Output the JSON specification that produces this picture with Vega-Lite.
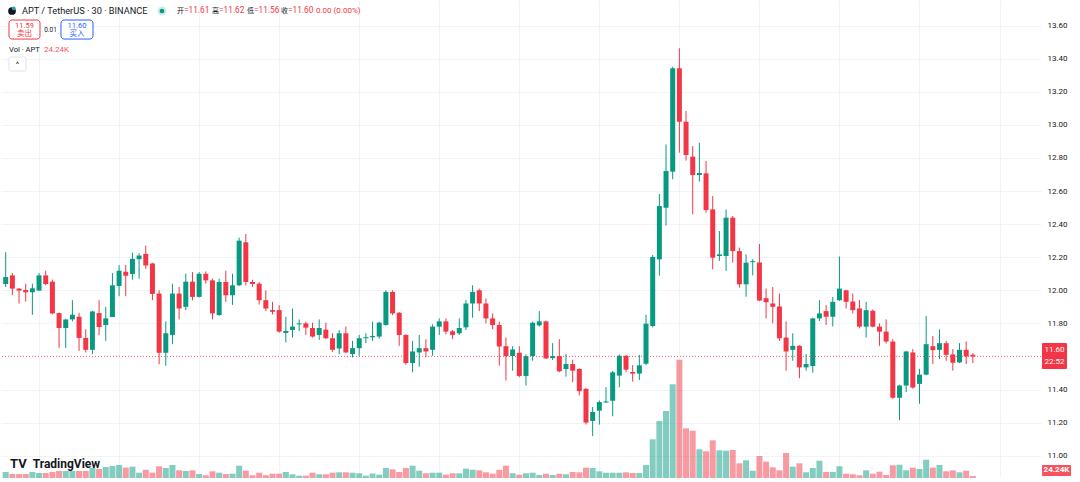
{
"$schema": "https://vega.github.io/schema/vega-lite/v6.json",
"width": 1040, "height": 478, "padding": 0,
"background": "white",
"config": {"view": {"stroke": null}, "font": "Roboto, 'Noto Sans CJK SC'"},
"data": {"values": [
{"i":0,"o":12.038,"h":12.23,"l":12.02,"c":12.08,"v":73},
{"i":1,"o":12.09,"h":12.104,"l":11.97,"c":12.01,"v":48},
{"i":2,"o":12.01,"h":12.014,"l":11.92,"c":11.998,"v":48},
{"i":3,"o":12.002,"h":12.04,"l":11.932,"c":11.988,"v":48},
{"i":4,"o":11.988,"h":12.04,"l":11.852,"c":12.012,"v":73},
{"i":5,"o":11.998,"h":12.104,"l":11.998,"c":12.09,"v":61},
{"i":6,"o":12.09,"h":12.118,"l":12.03,"c":12.038,"v":61},
{"i":7,"o":12.052,"h":12.064,"l":11.854,"c":11.86,"v":73},
{"i":8,"o":11.862,"h":11.866,"l":11.652,"c":11.772,"v":85},
{"i":9,"o":11.772,"h":11.828,"l":11.652,"c":11.824,"v":85},
{"i":10,"o":11.824,"h":11.94,"l":11.812,"c":11.852,"v":85},
{"i":11,"o":11.84,"h":11.864,"l":11.634,"c":11.712,"v":85},
{"i":12,"o":11.712,"h":11.764,"l":11.624,"c":11.64,"v":85},
{"i":13,"o":11.64,"h":11.876,"l":11.614,"c":11.872,"v":121},
{"i":14,"o":11.862,"h":11.94,"l":11.728,"c":11.778,"v":109},
{"i":15,"o":11.79,"h":11.9,"l":11.694,"c":11.83,"v":133},
{"i":16,"o":11.838,"h":12.104,"l":11.838,"c":12.03,"v":145},
{"i":17,"o":12.026,"h":12.152,"l":11.964,"c":12.118,"v":157},
{"i":18,"o":12.112,"h":12.154,"l":11.964,"c":12.088,"v":125},
{"i":19,"o":12.098,"h":12.228,"l":12.064,"c":12.19,"v":137},
{"i":20,"o":12.188,"h":12.224,"l":12.07,"c":12.21,"v":64},
{"i":21,"o":12.22,"h":12.27,"l":12.13,"c":12.15,"v":100},
{"i":22,"o":12.162,"h":12.166,"l":11.94,"c":11.978,"v":64},
{"i":23,"o":11.98,"h":12.0,"l":11.552,"c":11.622,"v":142},
{"i":24,"o":11.622,"h":11.812,"l":11.544,"c":11.74,"v":121},
{"i":25,"o":11.73,"h":12.04,"l":11.674,"c":11.98,"v":157},
{"i":26,"o":11.98,"h":12.02,"l":11.824,"c":11.89,"v":93},
{"i":27,"o":11.9,"h":12.1,"l":11.88,"c":12.052,"v":85},
{"i":28,"o":12.052,"h":12.11,"l":11.94,"c":11.96,"v":93},
{"i":29,"o":11.96,"h":12.11,"l":11.956,"c":12.1,"v":48},
{"i":30,"o":12.1,"h":12.114,"l":12.04,"c":12.06,"v":33},
{"i":31,"o":12.06,"h":12.07,"l":11.824,"c":11.86,"v":81},
{"i":32,"o":11.85,"h":12.07,"l":11.846,"c":12.05,"v":64},
{"i":33,"o":12.05,"h":12.118,"l":11.93,"c":11.97,"v":48},
{"i":34,"o":11.97,"h":12.1,"l":11.912,"c":12.03,"v":52},
{"i":35,"o":12.03,"h":12.318,"l":12.026,"c":12.3,"v":149},
{"i":36,"o":12.29,"h":12.34,"l":12.03,"c":12.05,"v":88},
{"i":37,"o":12.05,"h":12.064,"l":12.02,"c":12.038,"v":33},
{"i":38,"o":12.04,"h":12.05,"l":11.914,"c":11.94,"v":64},
{"i":39,"o":11.94,"h":12.0,"l":11.874,"c":11.89,"v":33},
{"i":40,"o":11.88,"h":11.93,"l":11.854,"c":11.87,"v":52},
{"i":41,"o":11.88,"h":11.91,"l":11.744,"c":11.75,"v":52},
{"i":42,"o":11.742,"h":11.84,"l":11.684,"c":11.754,"v":73},
{"i":43,"o":11.76,"h":11.89,"l":11.714,"c":11.78,"v":45},
{"i":44,"o":11.794,"h":11.824,"l":11.754,"c":11.8,"v":28},
{"i":45,"o":11.8,"h":11.81,"l":11.73,"c":11.774,"v":28},
{"i":46,"o":11.772,"h":11.804,"l":11.714,"c":11.72,"v":64},
{"i":47,"o":11.73,"h":11.824,"l":11.7,"c":11.772,"v":45},
{"i":48,"o":11.762,"h":11.804,"l":11.704,"c":11.71,"v":45},
{"i":49,"o":11.71,"h":11.74,"l":11.628,"c":11.64,"v":64},
{"i":50,"o":11.648,"h":11.76,"l":11.614,"c":11.74,"v":69},
{"i":51,"o":11.74,"h":11.78,"l":11.62,"c":11.624,"v":69},
{"i":52,"o":11.614,"h":11.694,"l":11.594,"c":11.65,"v":64},
{"i":53,"o":11.65,"h":11.73,"l":11.604,"c":11.71,"v":57},
{"i":54,"o":11.71,"h":11.74,"l":11.68,"c":11.716,"v":28},
{"i":55,"o":11.716,"h":11.81,"l":11.694,"c":11.724,"v":54},
{"i":56,"o":11.72,"h":11.81,"l":11.708,"c":11.804,"v":40},
{"i":57,"o":11.79,"h":12.0,"l":11.786,"c":11.99,"v":121},
{"i":58,"o":11.99,"h":12.0,"l":11.85,"c":11.86,"v":105},
{"i":59,"o":11.864,"h":11.868,"l":11.664,"c":11.73,"v":73},
{"i":60,"o":11.73,"h":11.734,"l":11.55,"c":11.56,"v":121},
{"i":61,"o":11.56,"h":11.694,"l":11.504,"c":11.63,"v":149},
{"i":62,"o":11.624,"h":11.73,"l":11.538,"c":11.65,"v":88},
{"i":63,"o":11.65,"h":11.704,"l":11.594,"c":11.63,"v":57},
{"i":64,"o":11.64,"h":11.794,"l":11.604,"c":11.78,"v":64},
{"i":65,"o":11.78,"h":11.83,"l":11.73,"c":11.812,"v":64},
{"i":66,"o":11.812,"h":11.83,"l":11.734,"c":11.75,"v":40},
{"i":67,"o":11.752,"h":11.76,"l":11.704,"c":11.73,"v":57},
{"i":68,"o":11.74,"h":11.83,"l":11.73,"c":11.772,"v":57},
{"i":69,"o":11.776,"h":11.94,"l":11.76,"c":11.92,"v":113},
{"i":70,"o":11.92,"h":12.03,"l":11.834,"c":11.99,"v":100},
{"i":71,"o":12.0,"h":12.01,"l":11.874,"c":11.92,"v":93},
{"i":72,"o":11.92,"h":11.95,"l":11.8,"c":11.83,"v":69},
{"i":73,"o":11.83,"h":11.86,"l":11.764,"c":11.79,"v":52},
{"i":74,"o":11.79,"h":11.81,"l":11.544,"c":11.66,"v":99},
{"i":75,"o":11.662,"h":11.714,"l":11.454,"c":11.602,"v":149},
{"i":76,"o":11.602,"h":11.662,"l":11.514,"c":11.642,"v":57},
{"i":77,"o":11.622,"h":11.662,"l":11.474,"c":11.482,"v":40},
{"i":78,"o":11.482,"h":11.612,"l":11.424,"c":11.602,"v":57},
{"i":79,"o":11.602,"h":11.81,"l":11.574,"c":11.804,"v":64},
{"i":80,"o":11.788,"h":11.874,"l":11.78,"c":11.812,"v":36},
{"i":81,"o":11.812,"h":11.816,"l":11.584,"c":11.588,"v":52},
{"i":82,"o":11.59,"h":11.68,"l":11.578,"c":11.602,"v":36},
{"i":83,"o":11.602,"h":11.704,"l":11.504,"c":11.51,"v":52},
{"i":84,"o":11.524,"h":11.614,"l":11.478,"c":11.554,"v":45},
{"i":85,"o":11.554,"h":11.58,"l":11.444,"c":11.514,"v":73},
{"i":86,"o":11.524,"h":11.528,"l":11.364,"c":11.39,"v":69},
{"i":87,"o":11.404,"h":11.408,"l":11.188,"c":11.2,"v":125},
{"i":88,"o":11.21,"h":11.294,"l":11.118,"c":11.264,"v":121},
{"i":89,"o":11.272,"h":11.334,"l":11.188,"c":11.324,"v":81},
{"i":90,"o":11.322,"h":11.414,"l":11.318,"c":11.328,"v":64},
{"i":91,"o":11.332,"h":11.512,"l":11.238,"c":11.504,"v":64},
{"i":92,"o":11.484,"h":11.612,"l":11.414,"c":11.604,"v":64},
{"i":93,"o":11.604,"h":11.608,"l":11.504,"c":11.52,"v":69},
{"i":94,"o":11.506,"h":11.548,"l":11.448,"c":11.496,"v":61},
{"i":95,"o":11.496,"h":11.609,"l":11.458,"c":11.546,"v":61},
{"i":96,"o":11.556,"h":11.851,"l":11.548,"c":11.798,"v":157},
{"i":97,"o":11.784,"h":12.213,"l":11.776,"c":12.201,"v":468},
{"i":98,"o":12.187,"h":12.582,"l":12.088,"c":12.509,"v":690},
{"i":99,"o":12.499,"h":12.882,"l":12.391,"c":12.721,"v":811},
{"i":100,"o":12.717,"h":13.352,"l":12.671,"c":13.342,"v":1134},
{"i":101,"o":13.342,"h":13.463,"l":12.832,"c":13.019,"v":1431},
{"i":102,"o":13.019,"h":13.084,"l":12.784,"c":12.818,"v":601},
{"i":103,"o":12.808,"h":12.872,"l":12.459,"c":12.697,"v":572},
{"i":104,"o":12.697,"h":12.892,"l":12.657,"c":12.709,"v":347},
{"i":105,"o":12.707,"h":12.782,"l":12.469,"c":12.485,"v":323},
{"i":106,"o":12.489,"h":12.57,"l":12.127,"c":12.197,"v":456},
{"i":107,"o":12.207,"h":12.358,"l":12.177,"c":12.217,"v":335},
{"i":108,"o":12.207,"h":12.489,"l":12.117,"c":12.439,"v":330},
{"i":109,"o":12.439,"h":12.449,"l":12.167,"c":12.237,"v":339},
{"i":110,"o":12.237,"h":12.258,"l":12.016,"c":12.036,"v":178},
{"i":111,"o":12.036,"h":12.217,"l":11.961,"c":12.167,"v":214},
{"i":112,"o":12.17,"h":12.188,"l":12.09,"c":12.176,"v":88},
{"i":113,"o":12.168,"h":12.28,"l":11.934,"c":11.938,"v":266},
{"i":114,"o":11.952,"h":12.01,"l":11.83,"c":11.928,"v":197},
{"i":115,"o":11.92,"h":12.02,"l":11.8,"c":11.9,"v":129},
{"i":116,"o":11.902,"h":11.98,"l":11.694,"c":11.71,"v":93},
{"i":117,"o":11.714,"h":11.812,"l":11.514,"c":11.63,"v":303},
{"i":118,"o":11.64,"h":11.74,"l":11.574,"c":11.664,"v":137},
{"i":119,"o":11.664,"h":11.668,"l":11.468,"c":11.534,"v":178},
{"i":120,"o":11.534,"h":11.614,"l":11.514,"c":11.554,"v":69},
{"i":121,"o":11.542,"h":11.834,"l":11.502,"c":11.83,"v":121},
{"i":122,"o":11.83,"h":11.94,"l":11.814,"c":11.86,"v":209},
{"i":123,"o":11.874,"h":11.91,"l":11.79,"c":11.84,"v":73},
{"i":124,"o":11.84,"h":11.96,"l":11.782,"c":11.93,"v":73},
{"i":125,"o":11.94,"h":12.204,"l":11.936,"c":12.01,"v":142},
{"i":126,"o":12.0,"h":12.004,"l":11.89,"c":11.93,"v":52},
{"i":127,"o":11.932,"h":11.98,"l":11.86,"c":11.88,"v":45},
{"i":128,"o":11.89,"h":11.94,"l":11.77,"c":11.78,"v":33},
{"i":129,"o":11.78,"h":11.93,"l":11.714,"c":11.88,"v":93},
{"i":130,"o":11.876,"h":11.884,"l":11.776,"c":11.78,"v":52},
{"i":131,"o":11.78,"h":11.8,"l":11.664,"c":11.75,"v":76},
{"i":132,"o":11.75,"h":11.824,"l":11.678,"c":11.69,"v":36},
{"i":133,"o":11.69,"h":11.704,"l":11.344,"c":11.35,"v":154},
{"i":134,"o":11.35,"h":11.428,"l":11.214,"c":11.424,"v":161},
{"i":135,"o":11.424,"h":11.634,"l":11.384,"c":11.63,"v":93},
{"i":136,"o":11.624,"h":11.644,"l":11.404,"c":11.412,"v":125},
{"i":137,"o":11.434,"h":11.524,"l":11.314,"c":11.49,"v":109},
{"i":138,"o":11.49,"h":11.844,"l":11.486,"c":11.674,"v":221},
{"i":139,"o":11.662,"h":11.724,"l":11.554,"c":11.638,"v":125},
{"i":140,"o":11.64,"h":11.764,"l":11.584,"c":11.68,"v":157},
{"i":141,"o":11.68,"h":11.694,"l":11.574,"c":11.61,"v":81},
{"i":142,"o":11.612,"h":11.644,"l":11.514,"c":11.562,"v":93},
{"i":143,"o":11.564,"h":11.68,"l":11.56,"c":11.64,"v":69},
{"i":144,"o":11.64,"h":11.69,"l":11.554,"c":11.6,"v":88},
{"i":145,"o":11.61,"h":11.62,"l":11.56,"c":11.6,"v":24.24}
]},
"layer": [
{
"mark": {"type": "bar", "size": 6, "opacity": 0.5},
"encoding": {
"x": {"field": "i", "type": "quantitative", "scale": {"domain": [-0.705, 155.217], "nice": false, "zero": false, "padding": 0},
"axis": {"values": [5,17,29,41,53,65,77,89,101,113,125,137,149], "tickCount": 30, "grid": true, "gridColor": "#F0F3FA", "labels": false, "ticks": false, "domain": false, "title": null}},
"y": {"field": "v", "type": "quantitative", "scale": {"domain": [0, 5784], "nice": false}, "axis": null},
"color": {"condition": {"test": "datum.c >= datum.o", "value": "#089981"}, "value": "#F23645"}
}
},
{
"layer": [
{
"mark": {"type": "rule", "strokeWidth": 1},
"encoding": {
"x": {"field": "i", "type": "quantitative", "title": null},
"y": {"field": "l", "type": "quantitative", "scale": {"domain": [10.865, 13.755], "nice": false, "zero": false},
"axis": {"orient": "right", "values": [11,11.2,11.4,11.8,12,12.2,12.4,12.6,12.8,13,13.2,13.4,13.6], "tickCount": 30, "format": ".2f", "grid": true, "gridColor": "#F0F3FA", "ticks": false, "domain": false, "labelFontSize": 8, "labelColor": "#131722", "labelPadding": 6, "labelOverlap": false, "title": null}},
"y2": {"field": "h"},
"color": {"condition": {"test": "datum.c >= datum.o", "value": "#089981"}, "value": "#F23645"}
}
},
{
"mark": {"type": "bar", "size": 5},
"encoding": {
"x": {"field": "i", "type": "quantitative", "title": null},
"y": {"field": "o", "type": "quantitative", "title": null},
"y2": {"field": "c"},
"color": {"condition": {"test": "datum.c >= datum.o", "value": "#089981"}, "value": "#F23645"}
}
},
{
"data": {"values": [{}]},
"mark": {"type": "rule", "color": "#F23645", "strokeDash": [1, 2], "strokeWidth": 1, "opacity": 0.8},
"encoding": {"y": {"datum": 11.6, "type": "quantitative"}}
},
{
"data": {"values": [{}]},
"mark": {"type": "point", "filled": true, "size": 60, "color": "#131722", "opacity": 1},
"encoding": {"x": {"datum": 0.944, "type": "quantitative"}, "y": {"datum": 13.6885, "type": "quantitative"}}
},
{
"data": {"values": [{}]},
"mark": {"type": "point", "filled": true, "size": 14, "color": "#26A69A", "opacity": 1},
"encoding": {"x": {"datum": 1.2, "type": "quantitative"}, "y": {"datum": 13.705, "type": "quantitative"}}
},
{
"data": {"values": [{}]},
"mark": {"type": "text", "align": "left", "baseline": "middle", "fontSize": 9.2, "color": "#131722", "text": "APT / TetherUS · 30 · BINANCE"},
"encoding": {"x": {"datum": 2.443, "type": "quantitative"}, "y": {"datum": 13.6885, "type": "quantitative"}}
},
{
"data": {"values": [{}]},
"mark": {"type": "point", "filled": true, "size": 80, "color": "#089981", "opacity": 0.2},
"encoding": {"x": {"datum": 23.43, "type": "quantitative"}, "y": {"datum": 13.6885, "type": "quantitative"}}
},
{
"data": {"values": [{}]},
"mark": {"type": "point", "filled": true, "size": 22, "color": "#089981", "opacity": 1},
"encoding": {"x": {"datum": 23.43, "type": "quantitative"}, "y": {"datum": 13.6885, "type": "quantitative"}}
},
{
"data": {"values": [{}]},
"mark": {"type": "text", "align": "left", "baseline": "middle", "fontSize": 7, "color": "#131722", "text": "开"},
"encoding": {"x": {"datum": 25.68, "type": "quantitative"}, "y": {"datum": 13.6885, "type": "quantitative"}}
},
{
"data": {"values": [{}]},
"mark": {"type": "text", "align": "left", "baseline": "middle", "fontSize": 8.3, "color": "#F23645", "text": "=11.61"},
"encoding": {"x": {"datum": 26.73, "type": "quantitative"}, "y": {"datum": 13.6885, "type": "quantitative"}}
},
{
"data": {"values": [{}]},
"mark": {"type": "text", "align": "left", "baseline": "middle", "fontSize": 7, "color": "#131722", "text": "高"},
"encoding": {"x": {"datum": 30.93, "type": "quantitative"}, "y": {"datum": 13.6885, "type": "quantitative"}}
},
{
"data": {"values": [{}]},
"mark": {"type": "text", "align": "left", "baseline": "middle", "fontSize": 8.3, "color": "#F23645", "text": "=11.62"},
"encoding": {"x": {"datum": 31.98, "type": "quantitative"}, "y": {"datum": 13.6885, "type": "quantitative"}}
},
{
"data": {"values": [{}]},
"mark": {"type": "text", "align": "left", "baseline": "middle", "fontSize": 7, "color": "#131722", "text": "低"},
"encoding": {"x": {"datum": 36.18, "type": "quantitative"}, "y": {"datum": 13.6885, "type": "quantitative"}}
},
{
"data": {"values": [{}]},
"mark": {"type": "text", "align": "left", "baseline": "middle", "fontSize": 8.3, "color": "#F23645", "text": "=11.56"},
"encoding": {"x": {"datum": 37.23, "type": "quantitative"}, "y": {"datum": 13.6885, "type": "quantitative"}}
},
{
"data": {"values": [{}]},
"mark": {"type": "text", "align": "left", "baseline": "middle", "fontSize": 7, "color": "#131722", "text": "收"},
"encoding": {"x": {"datum": 41.27, "type": "quantitative"}, "y": {"datum": 13.6885, "type": "quantitative"}}
},
{
"data": {"values": [{}]},
"mark": {"type": "text", "align": "left", "baseline": "middle", "fontSize": 8.3, "color": "#F23645", "text": "=11.60"},
"encoding": {"x": {"datum": 42.32, "type": "quantitative"}, "y": {"datum": 13.6885, "type": "quantitative"}}
},
{
"data": {"values": [{}]},
"mark": {"type": "text", "align": "left", "baseline": "middle", "fontSize": 8, "color": "#F23645", "text": "0.00 (0.00%)"},
"encoding": {"x": {"datum": 46.52, "type": "quantitative"}, "y": {"datum": 13.6885, "type": "quantitative"}}
},
{
"data": {"values": [{}]},
"mark": {"type": "rect", "fill": "white", "stroke": "#F23645", "strokeWidth": 1, "cornerRadius": 3},
"encoding": {"x": {"datum": 0.494, "type": "quantitative"}, "x2": {"datum": 5.142}, "y": {"datum": 13.634, "type": "quantitative"}, "y2": {"datum": 13.519}}
},
{
"data": {"values": [{}]},
"mark": {"type": "text", "align": "center", "baseline": "middle", "fontSize": 7.5, "color": "#F23645", "text": "11.59"},
"encoding": {"x": {"datum": 2.818, "type": "quantitative"}, "y": {"datum": 13.6008, "type": "quantitative"}}
},
{
"data": {"values": [{}]},
"mark": {"type": "text", "align": "center", "baseline": "middle", "fontSize": 7.5, "color": "#F23645", "text": "卖出"},
"encoding": {"x": {"datum": 2.818, "type": "quantitative"}, "y": {"datum": 13.5494, "type": "quantitative"}}
},
{
"data": {"values": [{}]},
"mark": {"type": "text", "align": "center", "baseline": "middle", "fontSize": 6.5, "color": "#131722", "text": "0.01"},
"encoding": {"x": {"datum": 6.716, "type": "quantitative"}, "y": {"datum": 13.5736, "type": "quantitative"}}
},
{
"data": {"values": [{}]},
"mark": {"type": "rect", "fill": "white", "stroke": "#2962FF", "strokeWidth": 1, "cornerRadius": 3},
"encoding": {"x": {"datum": 8.29, "type": "quantitative"}, "x2": {"datum": 13.088}, "y": {"datum": 13.634, "type": "quantitative"}, "y2": {"datum": 13.519}}
},
{
"data": {"values": [{}]},
"mark": {"type": "text", "align": "center", "baseline": "middle", "fontSize": 7.5, "color": "#2962FF", "text": "11.60"},
"encoding": {"x": {"datum": 10.69, "type": "quantitative"}, "y": {"datum": 13.6008, "type": "quantitative"}}
},
{
"data": {"values": [{}]},
"mark": {"type": "text", "align": "center", "baseline": "middle", "fontSize": 7.5, "color": "#2962FF", "text": "买入"},
"encoding": {"x": {"datum": 10.69, "type": "quantitative"}, "y": {"datum": 13.5494, "type": "quantitative"}}
},
{
"data": {"values": [{}]},
"mark": {"type": "text", "align": "left", "baseline": "middle", "fontSize": 7.6, "color": "#131722", "text": "Vol · APT"},
"encoding": {"x": {"datum": 0.494, "type": "quantitative"}, "y": {"datum": 13.4557, "type": "quantitative"}}
},
{
"data": {"values": [{}]},
"mark": {"type": "text", "align": "left", "baseline": "middle", "fontSize": 8, "color": "#F7525F", "text": "24.24K"},
"encoding": {"x": {"datum": 5.742, "type": "quantitative"}, "y": {"datum": 13.4557, "type": "quantitative"}}
},
{
"data": {"values": [{}]},
"mark": {"type": "rect", "fill": "white", "stroke": "#E0E3EB", "strokeWidth": 1, "cornerRadius": 2},
"encoding": {"x": {"datum": 0.494, "type": "quantitative"}, "x2": {"datum": 3.043}, "y": {"datum": 13.4104, "type": "quantitative"}, "y2": {"datum": 13.3257}}
},
{
"data": {"values": [{}]},
"mark": {"type": "text", "align": "center", "baseline": "middle", "fontSize": 8, "color": "#131722", "text": "^"},
"encoding": {"x": {"datum": 1.769, "type": "quantitative"}, "y": {"datum": 13.362, "type": "quantitative"}}
},
{
"data": {"values": [{}]},
"mark": {"type": "text", "align": "left", "baseline": "middle", "fontSize": 13, "fontWeight": "bold", "color": "#131722", "text": "TV"},
"encoding": {"x": {"datum": 0.645, "type": "quantitative"}, "y": {"datum": 10.9497, "type": "quantitative"}}
},
{
"data": {"values": [{}]},
"mark": {"type": "text", "align": "left", "baseline": "middle", "fontSize": 12, "fontWeight": "bold", "color": "#131722", "text": "TradingView"},
"encoding": {"x": {"datum": 4.043, "type": "quantitative"}, "y": {"datum": 10.9497, "type": "quantitative"}}
},
{
"data": {"values": [{}]},
"mark": {"type": "rect", "fill": "#F23645", "cornerRadius": 1},
"encoding": {"x": {"datum": 155.367, "type": "quantitative"}, "x2": {"datum": 159.115}, "y": {"datum": 11.6812, "type": "quantitative"}, "y2": {"datum": 11.524}}
},
{
"data": {"values": [{}]},
"mark": {"type": "text", "align": "center", "baseline": "middle", "fontSize": 8, "color": "white", "text": "11.60"},
"encoding": {"x": {"datum": 157.24, "type": "quantitative"}, "y": {"datum": 11.6389, "type": "quantitative"}}
},
{
"data": {"values": [{}]},
"mark": {"type": "text", "align": "center", "baseline": "middle", "fontSize": 8, "color": "white", "text": "22:52"},
"encoding": {"x": {"datum": 157.24, "type": "quantitative"}, "y": {"datum": 11.5663, "type": "quantitative"}}
},
{
"data": {"values": [{}]},
"mark": {"type": "rect", "fill": "#F7525F", "cornerRadius": 1},
"encoding": {"x": {"datum": 155.367, "type": "quantitative"}, "x2": {"datum": 159.715}, "y": {"datum": 10.9436, "type": "quantitative"}, "y2": {"datum": 10.8771}}
},
{
"data": {"values": [{}]},
"mark": {"type": "text", "align": "center", "baseline": "middle", "fontSize": 8, "fontWeight": "bold", "color": "white", "text": "24.24K"},
"encoding": {"x": {"datum": 157.54, "type": "quantitative"}, "y": {"datum": 10.9104, "type": "quantitative"}}
}
]
}
],
"resolve": {"scale": {"y": "independent"}}
}
